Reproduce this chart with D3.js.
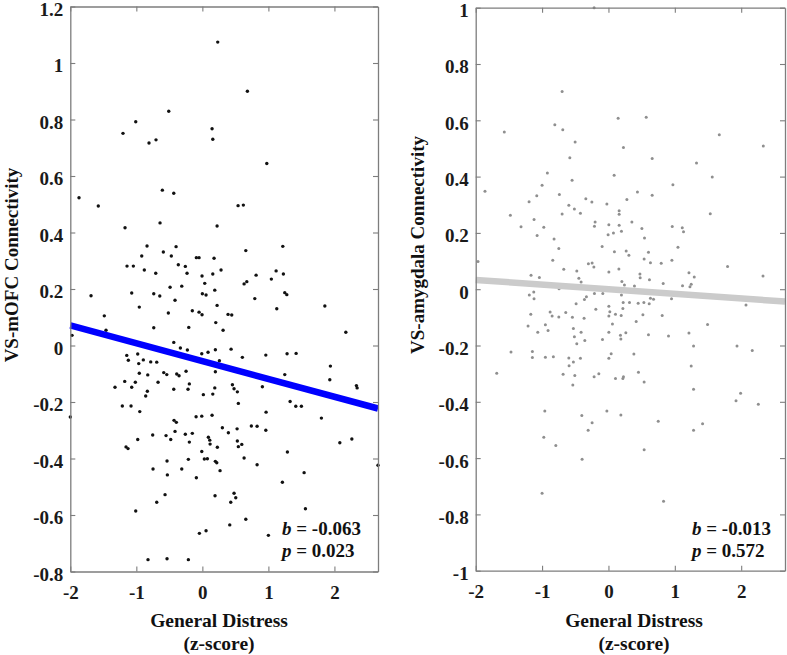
<!DOCTYPE html>
<html><head><meta charset="utf-8">
<script src="https://cdn.jsdelivr.net/npm/d3@7"></script>
<style>body{margin:0;background:#fff}</style>
</head><body><svg id="chart" width="787" height="655"></svg>
<script>
// ---------------- data ----------------
const xTicks = [-2, -1, 0, 1, 2];
const xDomain = [-2, 2.66];
const mofcTicks = [-0.8, -0.6, -0.4, -0.2, 0, 0.2, 0.4, 0.6, 0.8, 1, 1.2];
const amygTicks = [-1, -0.8, -0.6, -0.4, -0.2, 0, 0.2, 0.4, 0.6, 0.8, 1];

const mofcDistress = [-1.868,-1.202,-1.009,-0.808,-0.702,-0.509,-0.606,-0.433,0.233,0.682,0.147,0.158,0.976,-1.576,-1.171,-0.641,-0.838,-0.591,-0.398,-0.918,-1.141,-1.045,-0.879,-0.470,-0.364,-0.258,-0.232,-0.091,-0.050,-0.706,-1.686,-1.070,-0.736,-0.645,-0.489,-0.312,-0.414,-0.955,-0.152,-0.515,-1.485,-1.459,-0.736,-0.206,-0.050,-1.974,-1.145,-1.121,-0.979,-0.964,-0.894,-0.782,-0.691,-0.433,-0.333,-0.585,-0.539,-0.388,-0.353,-0.247,-0.955,-0.827,-1.176,-1.015,-0.671,-0.197,-1.323,-1.070,-0.433,-0.217,-0.833,-0.858,-1.212,-1.080,-0.948,-2.000,-0.095,-0.429,-0.394,-0.414,-0.752,-0.550,-0.479,-0.258,-0.152,-0.197,-0.979,-1.156,-1.126,-0.535,-0.212,-0.747,-0.312,-0.530,-0.091,-0.565,-0.691,-1.009,-0.045,-0.823,-0.535,-0.212,0.541,0.621,0.223,0.658,1.218,0.177,-0.005,0.158,0.283,0.036,0.814,1.117,1.227,1.045,0.632,0.673,0.188,0.000,0.056,0.794,1.248,1.279,0.223,1.127,1.855,-0.005,0.389,0.445,0.203,0.314,2.173,-0.227,-0.009,0.086,0.197,0.435,0.258,0.606,0.961,1.283,1.420,0.197,1.248,1.939,1.930,0.188,0.455,0.480,0.909,2.333,2.344,0.530,0.015,0.158,0.545,1.329,1.415,1.500,0.965,-0.009,0.147,1.803,0.303,0.394,0.526,0.742,0.829,0.961,0.091,0.112,0.117,0.227,0.530,0.597,0.545,2.082,2.264,-0.009,1.288,0.030,0.076,0.197,0.218,0.632,0.268,0.829,1.541,2.660,1.212,0.192,0.480,0.506,0.430,1.561,0.658,0.415,0.056,1.000];
const mofcConn = [0.523,0.751,0.792,0.717,0.728,0.829,0.550,0.539,1.074,0.900,0.767,0.730,0.644,0.494,0.417,0.434,0.352,0.331,0.350,0.317,0.281,0.281,0.267,0.317,0.286,0.280,0.256,0.311,0.311,0.256,0.176,0.186,0.183,0.175,0.206,0.210,0.160,0.136,0.123,0.115,0.105,0.054,0.063,0.064,0.118,0.036,-0.035,-0.052,-0.030,-0.064,-0.051,-0.058,-0.059,0.011,-0.009,-0.096,-0.103,-0.101,-0.107,-0.091,-0.098,-0.104,-0.127,-0.130,-0.130,-0.136,-0.148,-0.148,-0.155,-0.155,-0.162,-0.179,-0.214,-0.214,-0.234,-0.253,-0.252,-0.265,-0.272,-0.304,-0.317,-0.319,-0.333,-0.314,-0.311,-0.342,-0.333,-0.359,-0.365,-0.409,-0.403,-0.437,-0.437,-0.458,-0.468,-0.528,-0.555,-0.586,-0.665,-0.758,-0.755,-0.758,0.495,0.497,0.423,0.336,0.351,0.309,0.246,0.253,0.267,0.220,0.249,0.264,0.253,0.235,0.218,0.226,0.196,0.183,0.179,0.166,0.187,0.180,0.142,0.130,0.140,0.109,0.110,0.108,0.081,0.054,0.047,-0.016,-0.029,-0.024,-0.015,-0.013,-0.054,-0.042,-0.034,-0.029,-0.028,-0.093,-0.103,-0.073,-0.121,-0.150,-0.139,-0.153,-0.146,-0.142,-0.150,-0.164,-0.174,-0.172,-0.205,-0.198,-0.215,-0.215,-0.236,-0.250,-0.247,-0.257,-0.291,-0.309,-0.295,-0.285,-0.286,-0.300,-0.325,-0.335,-0.349,-0.360,-0.338,-0.350,-0.358,-0.344,-0.331,-0.375,-0.377,-0.402,-0.401,-0.410,-0.415,-0.398,-0.443,-0.422,-0.450,-0.424,-0.484,-0.532,-0.523,-0.539,-0.555,-0.578,-0.615,-0.635,-0.656,-0.672];

const amygDistress = [-0.216,-0.698,-1.569,-0.808,-0.688,-0.502,-0.582,-0.920,-0.548,-1.000,-1.860,-1.080,-0.739,-0.341,0.146,0.569,1.670,2.333,0.226,0.659,1.327,1.564,0.086,0.971,0.437,0.659,0.278,-0.250,-0.024,-1.196,-0.597,-0.513,-0.422,-0.698,-1.478,-1.121,-0.201,-0.211,0.006,-1.317,-0.974,-1.075,-0.819,-0.095,-0.748,-1.965,-0.839,-0.302,-0.246,-0.220,-0.673,0.006,-0.477,-1.166,-1.041,-0.446,-0.412,-0.744,-1.125,-1.192,-1.121,-0.211,-0.085,-0.332,-0.362,-0.487,0.006,-0.190,-1.170,-0.879,-0.849,-0.748,-0.643,-0.543,-0.367,0.006,-1.211,-0.950,-1.065,-0.910,-0.528,-0.412,-0.356,-0.477,-0.513,-0.090,0.006,-1.468,-1.146,-1.146,-0.950,-0.830,-0.597,-0.528,-0.422,-0.593,0.006,-1.683,-0.683,-0.507,-0.216,-0.145,-0.537,0.161,0.161,1.534,0.161,0.353,-0.005,0.075,0.196,0.504,0.961,1.112,1.131,0.543,0.090,0.267,0.308,0.603,1.047,0.538,0.633,0.795,0.956,1.795,0.157,0.474,0.478,0.618,0.202,0.241,0.392,0.825,1.116,1.213,1.293,1.247,1.228,2.329,0.196,0.633,0.679,0.950,0.222,0.317,0.448,0.534,0.614,2.072,0.021,0.217,0.106,0.192,0.519,0.810,0.418,1.493,0.060,0.262,0.181,0.187,0.603,0.905,1.213,1.282,1.937,2.167,0.041,0.383,1.247,0.106,0.217,0.226,0.452,0.538,1.282,-0.959,-0.401,-0.246,-0.306,-0.024,-0.974,-0.793,-0.397,-1.000,0.187,0.750,1.282,1.418,1.922,1.991,2.258,0.538,0.830];
const amygConn = [1.000,0.702,0.558,0.584,0.566,0.523,0.467,0.413,0.387,0.369,0.348,0.332,0.336,0.321,0.607,0.611,0.549,0.509,0.503,0.464,0.448,0.399,0.405,0.371,0.345,0.334,0.319,0.310,0.303,0.311,0.298,0.285,0.270,0.267,0.263,0.248,0.239,0.224,0.229,0.222,0.220,0.191,0.178,0.152,0.145,0.098,0.103,0.090,0.093,0.079,0.071,0.061,0.065,0.050,0.042,0.039,0.026,0.002,-0.010,-0.021,-0.034,-0.015,-0.015,-0.027,-0.037,-0.052,-0.061,-0.071,-0.089,-0.081,-0.095,-0.099,-0.083,-0.100,-0.103,-0.095,-0.131,-0.126,-0.153,-0.147,-0.140,-0.153,-0.182,-0.194,-0.169,-0.179,-0.153,-0.223,-0.221,-0.243,-0.242,-0.240,-0.244,-0.259,-0.245,-0.272,-0.245,-0.299,-0.302,-0.307,-0.311,-0.300,-0.340,0.279,0.266,0.268,0.227,0.239,0.193,0.200,0.206,0.216,0.223,0.218,0.204,0.182,0.133,0.136,0.121,0.131,0.149,0.107,0.094,0.092,0.103,0.081,0.072,0.054,0.041,0.034,0.027,0.015,0.011,0.020,0.012,0.058,0.043,0.018,0.009,0.047,-0.021,-0.032,-0.036,-0.034,-0.047,-0.047,-0.050,-0.047,-0.052,-0.056,-0.080,-0.069,-0.089,-0.093,-0.091,-0.093,-0.115,-0.125,-0.124,-0.155,-0.164,-0.177,-0.162,-0.166,-0.156,-0.202,-0.202,-0.218,-0.229,-0.230,-0.273,-0.317,-0.317,-0.311,-0.295,-0.330,-0.355,-0.433,-0.449,-0.474,-0.501,-0.433,-0.526,-0.555,-0.604,-0.725,-0.447,-0.469,-0.501,-0.478,-0.396,-0.370,-0.409,-0.570,-0.753];

// fitted regression line end values at xDomain ends
const mofcFit = [0.071, -0.223];
const amygFit = [0.033, -0.044];
const mofcStats = ["-0.063", "0.023"];
const amygStats = ["-0.013", "0.572"];

// ---------------- drawing ----------------
const svg = d3.select("#chart");
const FONT = "'Liberation Serif', 'Times New Roman', serif";
const AXC = "#7d7d7d";

function drawPanel(o) {
  const x = d3.scaleLinear().domain(xDomain).range([o.left, o.right]);
  const y = d3.scaleLinear().domain(o.yDomain).range([o.bottom, o.top]);
  const g = svg.append("g");

  g.selectAll("circle").data(o.xs.map((d, i) => [d, o.ys[i]])).join("circle")
    .attr("cx", d => x(d[0])).attr("cy", d => y(d[1]))
    .attr("r", o.r).attr("fill", o.dot);

  g.append("line")
    .attr("x1", x(xDomain[0])).attr("y1", y(o.fit[0]))
    .attr("x2", x(xDomain[1])).attr("y2", y(o.fit[1]))
    .attr("stroke", o.lineColor).attr("stroke-width", 6.5);

  const style = sel => {
    sel.attr("font-family", null).attr("font-size", null);
    sel.select(".domain").attr("stroke", AXC).attr("stroke-width", 1.3);
    sel.selectAll(".tick line").attr("stroke", AXC).attr("stroke-width", 1.1);
    sel.selectAll(".tick text").attr("fill", "#1a1a1a").attr("font-family", FONT)
      .attr("font-weight", "bold").attr("font-size", 19);
  };
  g.append("g").attr("transform", `translate(0,${o.bottom})`)
    .call(d3.axisBottom(x).tickValues(xTicks).tickSize(-5).tickSizeOuter(0).tickPadding(14).tickFormat(String))
    .call(style);
  g.append("g").attr("transform", `translate(0,${o.top})`)
    .call(d3.axisTop(x).tickValues(xTicks).tickSize(-5).tickSizeOuter(0).tickFormat(""))
    .call(style);
  g.append("g").attr("transform", `translate(${o.left},0)`)
    .call(d3.axisLeft(y).tickValues(o.yTicks).tickSize(-5).tickSizeOuter(0).tickPadding(7).tickFormat(String))
    .call(style)
    .selectAll(".tick text").attr("dy", "0.47em");
  g.append("g").attr("transform", `translate(${o.right},0)`)
    .call(d3.axisRight(y).tickValues(o.yTicks).tickSize(-5).tickSizeOuter(0).tickFormat(""))
    .call(style);

  // y label
  g.append("text").attr("transform", `translate(${o.ylabX},${o.ylabY}) rotate(-90)`)
    .attr("text-anchor", "middle").attr("font-family", FONT).attr("font-weight", "bold")
    .attr("font-size", 19).attr("fill", "#111").text(o.ylabel);
  // x label
  const xl = g.append("text").attr("text-anchor", "middle").attr("font-family", FONT)
    .attr("font-weight", "bold").attr("font-size", 19.5).attr("fill", "#111");
  xl.append("tspan").attr("x", o.xlabX).attr("y", 627).text("General Distress");
  xl.append("tspan").attr("x", o.xlabX).attr("y", 650).text("(z-score)");

  // stats
  const st = g.append("g").attr("font-family", FONT).attr("font-weight", "bold")
    .attr("font-size", 19).attr("fill", "#111");
  const t1 = st.append("text").attr("x", o.statX).attr("y", 535);
  t1.append("tspan").attr("font-style", "italic").text("b");
  t1.append("tspan").text(" = " + o.stats[0]);
  const t2 = st.append("text").attr("x", o.statX).attr("y", 557);
  t2.append("tspan").attr("font-style", "italic").text("p");
  t2.append("tspan").text(" = " + o.stats[1]);
}

drawPanel({
  xs: mofcDistress, ys: mofcConn, yDomain: [-0.8, 1.2], yTicks: mofcTicks,
  left: 70.3, right: 378, top: 6.5, bottom: 571.5,
  dot: "#111", r: 1.7, lineColor: "#0000ff", fit: mofcFit, stats: mofcStats,
  ylabel: "VS-mOFC Connectivity", ylabX: 18, ylabY: 265, xlabX: 219, statX: 282
});
drawPanel({
  xs: amygDistress, ys: amygConn, yDomain: [-1, 1], yTicks: amygTicks,
  left: 475.7, right: 785, top: 7.7, bottom: 570.7,
  dot: "#8f8f8f", r: 1.5, lineColor: "#cbcbcb", fit: amygFit, stats: amygStats,
  ylabel: "VS-amygdala Connectivity", ylabX: 424, ylabY: 245, xlabX: 634, statX: 692
});
</script></body></html>
